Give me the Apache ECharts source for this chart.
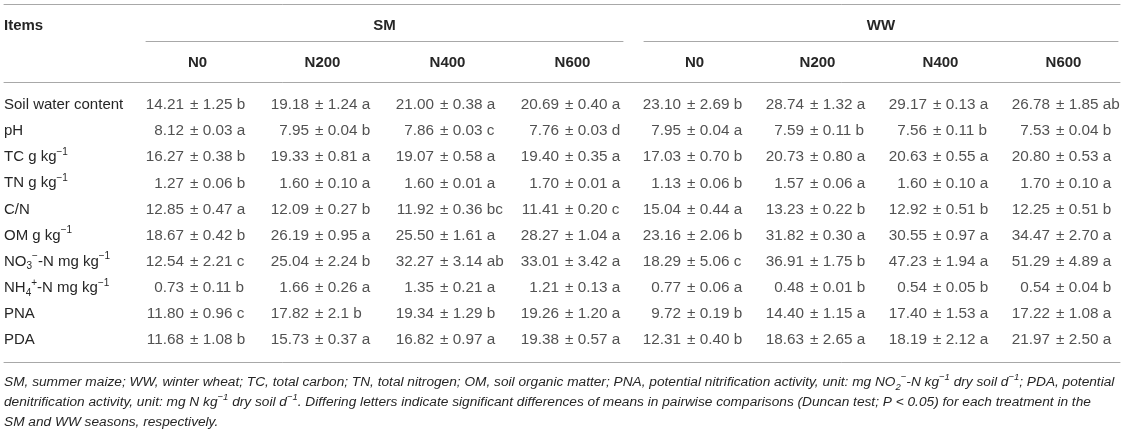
<!DOCTYPE html>
<html>
<head>
<meta charset="utf-8">
<script src="https://cdn.jsdelivr.net/npm/echarts@6/dist/echarts.min.js"></script>
<style>
  html, body { margin: 0; padding: 0; background: #fff; }
  #main { width: 1144px; height: 434px; }
</style>
</head>
<body>
<div id="main"></div>
<script>
// row labels (rich tags give the sub/superscripts)
const items = [
  "Soil water content",
  "pH",
  "TC g kg{sup|−1}",
  "TN g kg{sup|−1}",
  "C/N",
  "OM g kg{sup|−1}",
  "NO{sub|3}{sup|−}-N mg kg{sup|−1}",
  "NH{sub|4}{sup|+}-N mg kg{sup|−1}",
  "PNA",
  "PDA"
];
const treatments = ["N0", "N200", "N400", "N600"];

// summer maize
const smMean = [
  ["14.21", "19.18", "21.00", "20.69"],
  ["8.12", "7.95", "7.86", "7.76"],
  ["16.27", "19.33", "19.07", "19.40"],
  ["1.27", "1.60", "1.60", "1.70"],
  ["12.85", "12.09", "11.92", "11.41"],
  ["18.67", "26.19", "25.50", "28.27"],
  ["12.54", "25.04", "32.27", "33.01"],
  ["0.73", "1.66", "1.35", "1.21"],
  ["11.80", "17.82", "19.34", "19.26"],
  ["11.68", "15.73", "16.82", "19.38"]
];
const smSd = [
  ["1.25", "1.24", "0.38", "0.40"],
  ["0.03", "0.04", "0.03", "0.03"],
  ["0.38", "0.81", "0.58", "0.35"],
  ["0.06", "0.10", "0.01", "0.01"],
  ["0.47", "0.27", "0.36", "0.20"],
  ["0.42", "0.95", "1.61", "1.04"],
  ["2.21", "2.24", "3.14", "3.42"],
  ["0.11", "0.26", "0.21", "0.13"],
  ["0.96", "2.1", "1.29", "1.20"],
  ["1.08", "0.37", "0.97", "0.57"]
];
const smSig = [
  ["b", "a", "a", "a"],
  ["a", "b", "c", "d"],
  ["b", "a", "a", "a"],
  ["b", "a", "a", "a"],
  ["a", "b", "bc", "c"],
  ["b", "a", "a", "a"],
  ["c", "b", "ab", "a"],
  ["b", "a", "a", "a"],
  ["c", "b", "b", "a"],
  ["b", "a", "a", "a"]
];

// winter wheat
const wwMean = [
  ["23.10", "28.74", "29.17", "26.78"],
  ["7.95", "7.59", "7.56", "7.53"],
  ["17.03", "20.73", "20.63", "20.80"],
  ["1.13", "1.57", "1.60", "1.70"],
  ["15.04", "13.23", "12.92", "12.25"],
  ["23.16", "31.82", "30.55", "34.47"],
  ["18.29", "36.91", "47.23", "51.29"],
  ["0.77", "0.48", "0.54", "0.54"],
  ["9.72", "14.40", "17.40", "17.22"],
  ["12.31", "18.63", "18.19", "21.97"]
];
const wwSd = [
  ["2.69", "1.32", "0.13", "1.85"],
  ["0.04", "0.11", "0.11", "0.04"],
  ["0.70", "0.80", "0.55", "0.53"],
  ["0.06", "0.06", "0.10", "0.10"],
  ["0.44", "0.22", "0.51", "0.51"],
  ["2.06", "0.30", "0.97", "2.70"],
  ["5.06", "1.75", "1.94", "4.89"],
  ["0.06", "0.01", "0.05", "0.04"],
  ["0.19", "1.15", "1.53", "1.08"],
  ["0.40", "2.65", "2.12", "2.50"]
];
const wwSig = [
  ["b", "a", "a", "ab"],
  ["a", "b", "b", "b"],
  ["b", "a", "a", "a"],
  ["b", "a", "a", "a"],
  ["a", "b", "b", "b"],
  ["b", "a", "a", "a"],
  ["c", "b", "a", "a"],
  ["a", "b", "b", "b"],
  ["b", "a", "a", "a"],
  ["b", "a", "a", "a"]
];

const footnote = [
  "SM, summer maize; WW, winter wheat; TC, total carbon; TN, total nitrogen; OM, soil organic matter; PNA, potential nitrification activity, unit: mg NO{fsub|2}{fsup|−}-N kg{fsup|−1} dry soil d{fsup|−1}; PDA, potential",
  "denitrification activity, unit: mg N kg{fsup|−1} dry soil d{fsup|−1}. Differing letters indicate significant differences of means in pairwise comparisons (Duncan test; P < 0.05) for each treatment in the",
  "SM and WW seasons, respectively."
];

const FONT = "Liberation Sans, Arial, Helvetica, sans-serif";
const TXT = "#262626";
const RULE = "#a8a8a8";

var myChart = echarts.init(document.getElementById("main"));

function cells() {
  const out = [];
  items.forEach((_, r) => {
    treatments.forEach((_, c) => out.push([c, r]));
  });
  return out;
}

// two series per season: the mean ends just left of the column's ± mark,
// the "± sd letter" part starts there
function cellSeries(idx, side, text) {
  return {
    type: "scatter",
    xAxisIndex: idx,
    yAxisIndex: idx,
    symbolSize: 1,
    itemStyle: { color: "rgba(0,0,0,0)" },
    silent: true,
    data: cells(),
    label: {
      show: true,
      position: side,
      distance: side === "left" ? 5 : 0,
      offset: [-8, 0],
      fontSize: 15.3,
      fontFamily: FONT,
      color: TXT,
      formatter: (p) => text(p.value[1], p.value[0])
    }
  };
}

function ruleAxis(grid, position, offset, name) {
  return {
    type: "value",
    gridIndex: grid,
    position: position,
    offset: offset,
    min: 0,
    max: 1,
    name: name || "",
    nameLocation: "middle",
    nameGap: 8,
    nameTextStyle: { fontSize: 15, fontWeight: "bold", fontFamily: FONT, color: TXT },
    axisLine: { show: true, onZero: false, lineStyle: { color: RULE, width: 1 } },
    axisTick: { show: false },
    axisLabel: { show: false },
    splitLine: { show: false }
  };
}

function headAxis(idx) {
  return {
    type: "category",
    gridIndex: idx,
    data: treatments,
    position: "top",
    offset: 51,
    axisLine: { show: false },
    axisTick: { show: false },
    axisLabel: { inside: true, margin: 14, fontSize: 15, fontWeight: "bold", fontFamily: FONT, color: TXT },
    splitLine: { show: false }
  };
}

function rowAxis(idx, show) {
  return {
    type: "category",
    gridIndex: idx,
    data: items,
    inverse: true,
    axisLine: { show: false },
    axisTick: { show: false },
    splitLine: { show: false },
    axisLabel: {
      show: !!show,
      inside: true,
      margin: 0,
      fontSize: 15,
      lineHeight: 20,
      fontFamily: FONT,
      color: TXT,
      rich: {
        sup: { fontSize: 10, verticalAlign: "top", fontFamily: FONT, color: TXT },
        sub: { fontSize: 10, verticalAlign: "bottom", fontFamily: FONT, color: TXT }
      }
    }
  };
}

const G = { top: 92, bottom: 81, outerBoundsMode: "none", containLabel: false };

myChart.setOption({
  animation: false,
  backgroundColor: "#ffffff",
  title: [
    {
      text: "Items",
      left: 4,
      top: 18,
      padding: 0,
      textStyle: { fontSize: 15, fontWeight: "bold", fontFamily: FONT, color: TXT }
    },
    {
      text: footnote.join("\n"),
      left: 4,
      top: 372,
      padding: 0,
      textStyle: {
        fontSize: 13.7,
        fontStyle: "italic",
        fontWeight: "normal",
        lineHeight: 20,
        fontFamily: FONT,
        color: TXT,
        rich: {
          fsup: { fontSize: 9.5, fontStyle: "italic", verticalAlign: "top", fontFamily: FONT, color: TXT },
          fsub: { fontSize: 9.5, fontStyle: "italic", verticalAlign: "bottom", fontFamily: FONT, color: TXT }
        }
      }
    }
  ],
  grid: [
    Object.assign({ left: 135, right: 509 }, G),  // SM cells
    Object.assign({ left: 633, right: 19 }, G),   // WW cells
    Object.assign({ left: 4, right: 24 }, G),     // whole table (rules, row names)
    Object.assign({ left: 146, right: 521 }, G),  // SM span line
    Object.assign({ left: 644, right: 26 }, G)    // WW span line
  ],
  xAxis: [
    headAxis(0),
    headAxis(1),
    ruleAxis(2, "top", 88),
    ruleAxis(2, "top", 10),
    ruleAxis(2, "bottom", 9),
    ruleAxis(3, "top", 51, "SM"),
    ruleAxis(4, "top", 51, "WW")
  ],
  yAxis: [
    rowAxis(0, false),
    rowAxis(1, false),
    rowAxis(2, true),
    rowAxis(3, false),
    rowAxis(4, false)
  ],
  series: [
    cellSeries(0, "left", (r, c) => smMean[r][c]),
    cellSeries(0, "right", (r, c) => "± " + smSd[r][c] + " " + smSig[r][c]),
    cellSeries(1, "left", (r, c) => wwMean[r][c]),
    cellSeries(1, "right", (r, c) => "± " + wwSd[r][c] + " " + wwSig[r][c])
  ]
});
</script>
</body>
</html>
